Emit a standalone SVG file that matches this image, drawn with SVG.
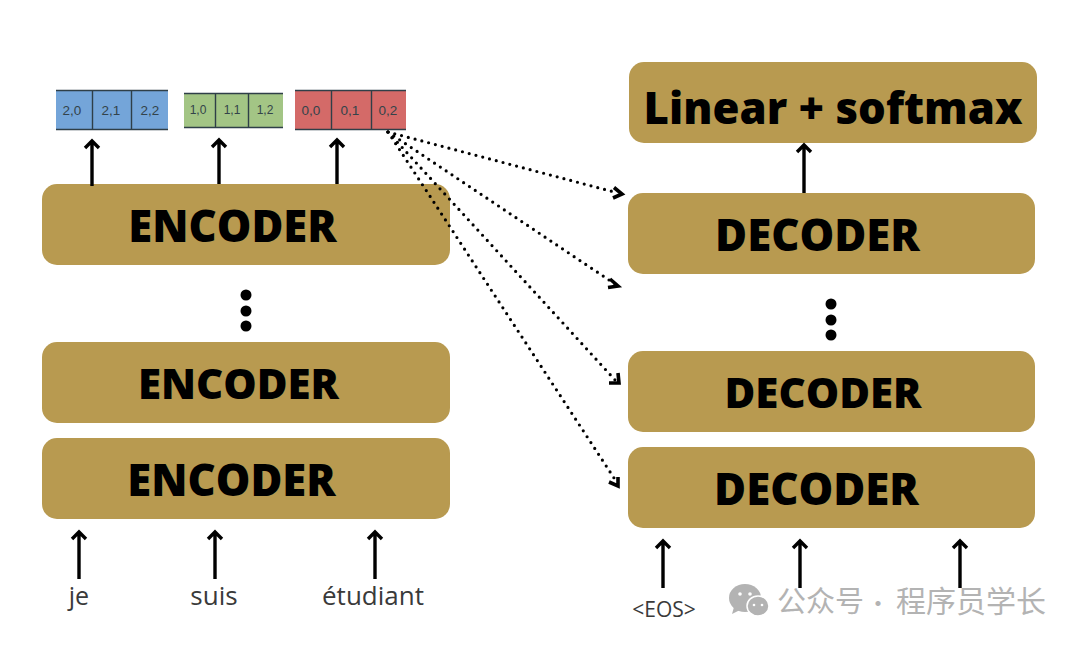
<svg xmlns="http://www.w3.org/2000/svg" width="1080" height="645" viewBox="0 0 1080 645">
<style>
.box{fill:#b89a50}
.t{font-family:"Open Sans","Noto Sans",sans-serif;font-weight:800;fill:#000;text-anchor:middle}
.cell{stroke:#2f3f48;stroke-width:1.4;fill:none}
.c{font-family:"Liberation Sans",sans-serif;font-size:13.500px;fill:#33434a;text-anchor:middle}
.cs{font-size:12px}
.a{stroke:#000;stroke-width:3.400;fill:none}
.w{font-family:"Open Sans","Noto Sans",sans-serif;fill:#3a3a3a;text-anchor:middle}
.d{stroke:#000;stroke-width:3.200;fill:none;stroke-dasharray:0 7;stroke-linecap:round}
.hd{stroke:#000;stroke-width:3.600;fill:none}
.dot{fill:#000}
.wm{font-family:"Noto Sans CJK SC",sans-serif;font-size:29px;fill:#b3b3b3}
</style>
<rect width="1080" height="645" fill="#fff"/>
<g id="vectors">
<g id="v2"><rect x="56" y="90" width="112" height="40" fill="#74a5d9"/><path class="cell" d="M56 90.500h112M56 129.500h112M92.500 90v40M131.500 90v40"/>
<text class="c" x="72" y="115">2,0</text><text class="c" x="111" y="115">2,1</text><text class="c" x="150" y="115">2,2</text></g>
<g id="v1"><rect x="184" y="93" width="99" height="35" fill="#a3c585"/><path class="cell" d="M184 93.500h99M184 127.500h99M215.500 93v35M248.500 93v35"/>
<text class="c cs" x="198" y="114">1,0</text><text class="c cs" x="232" y="114">1,1</text><text class="c cs" x="265" y="114">1,2</text></g>
<g id="v0"><rect x="295" y="90" width="111" height="40" fill="#d46a68"/><path class="cell" d="M295 90.500h111M295 129.500h111M331.500 90v40M371.500 90v40"/>
<text class="c" x="311" y="115">0,0</text><text class="c" x="350" y="115">0,1</text><text class="c" x="388" y="115">0,2</text></g>
</g>
<g id="encoder3"><rect class="box" x="42" y="184" width="408" height="81" rx="15"/><text class="t" x="232.500" y="241.500" font-size="43.500">ENCODER</text></g>
<g id="encoder2"><rect class="box" x="42" y="342" width="408" height="81" rx="15"/><text class="t" x="238.500" y="399" font-size="42">ENCODER</text></g>
<g id="encoder1"><rect class="box" x="42" y="438" width="408" height="81" rx="15"/><text class="t" x="231.500" y="495.500" font-size="43.500">ENCODER</text></g>
<g id="linear"><rect class="box" x="629" y="62" width="408" height="81" rx="15"/><text class="t" x="833" y="123.500" font-size="43.700">Linear + softmax</text></g>
<g id="decoder3"><rect class="box" x="628" y="193" width="407" height="81" rx="15"/><text class="t" x="817.500" y="250.500" font-size="43.700">DECODER</text></g>
<g id="decoder2"><rect class="box" x="628" y="351" width="407" height="81" rx="15"/><text class="t" x="823" y="408" font-size="42">DECODER</text></g>
<g id="decoder1"><rect class="box" x="628" y="447" width="407" height="81" rx="15"/><text class="t" x="816.500" y="504.500" font-size="43.700">DECODER</text></g>
<g id="ellipsis-left"><circle class="dot" cx="246" cy="295" r="5.500"/><circle class="dot" cx="246" cy="311" r="5.500"/><circle class="dot" cx="246" cy="326" r="5.500"/></g>
<g id="ellipsis-right"><circle class="dot" cx="831" cy="304" r="5.500"/><circle class="dot" cx="831" cy="320" r="5.500"/><circle class="dot" cx="831" cy="335" r="5.500"/></g>
<g id="connectors">
<path class="a" d="M92 186V143M85 148l7-7 7 7"/>
<path class="a" d="M219 184V141M212 147l7-7 7 7"/>
<path class="a" d="M337 184V141M330 147l7-7 7 7"/>
<path class="a" d="M804 193V146M797 152l7-7 7 7"/>
<path class="a" d="M79 579V533M72 539l7-7 7 7"/>
<path class="a" d="M215 579V533M208 539l7-7 7 7"/>
<path class="a" d="M375 579V533M368 539l7-7 7 7"/>
<path class="a" d="M663 588V542M656 548l7-7 7 7"/>
<path class="a" d="M800 588V542M793 548l7-7 7 7"/>
<path class="a" d="M960 588V542M953 548l7-7 7 7"/>
<path class="d" d="M388 132L618 193"/><path class="hd" d="M614 187.500l8 6.500-9 4"/>
<path class="d" d="M388 132L615 284"/><path class="hd" d="M610 279l8 7-10 1.500"/>
<path class="d" d="M388 132L616 381"/><path class="hd" d="M618 373l1 10-10 0"/>
<path class="d" d="M388 132L616 481"/><path class="hd" d="M618 477l0 9-9-4"/>
</g>
<g id="labels">
<text class="w" x="79" y="605" font-size="25">je</text>
<text class="w" x="214" y="605" font-size="26">suis</text>
<text class="w" x="373" y="605" font-size="26">étudiant</text>
<text class="w" x="664" y="617" font-size="21">&lt;EOS&gt;</text>
</g>
<g id="watermark">
<ellipse cx="745" cy="598" rx="16" ry="14" fill="#b3b3b3"/><path d="M734 607l-2 7 8-4z" fill="#b3b3b3"/>
<ellipse cx="758" cy="606" rx="11" ry="10" fill="#b3b3b3" stroke="#fff" stroke-width="1.500"/>
<circle cx="740" cy="594" r="1.800" fill="#fff"/><circle cx="750" cy="594" r="1.800" fill="#fff"/><circle cx="754" cy="605" r="1.300" fill="#fff"/><circle cx="762" cy="605" r="1.300" fill="#fff"/>
<text class="wm" x="777" y="612">公众号</text><text class="wm" x="866" y="612" style="font-size:24px">·</text><text class="wm" x="896" y="612" style="font-size:30px">程序员学长</text>
</g>
</svg>
